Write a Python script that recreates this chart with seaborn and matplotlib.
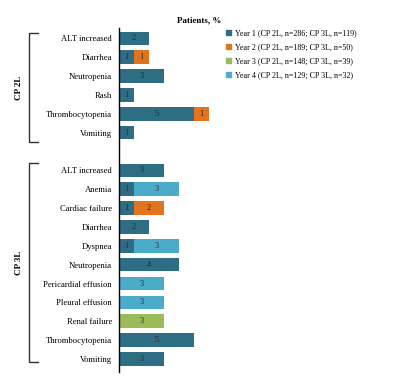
import pandas as pd
import seaborn as sns
import matplotlib.pyplot as plt
from matplotlib.patches import Patch
from matplotlib.lines import Line2D

# Adverse events per group (row labels) and % of patients per year
group = ['CP 2L'] * 6 + ['CP 3L'] * 11
events = ['ALT increased', 'Diarrhea', 'Neutropenia', 'Rash', 'Thrombocytopenia', 'Vomiting',
          'ALT increased', 'Anemia', 'Cardiac failure', 'Diarrhea', 'Dyspnea', 'Neutropenia',
          'Pericardial effusion', 'Pleural effusion', 'Renal failure', 'Thrombocytopenia', 'Vomiting']
year1 = [2, 1, 3, 1, 5, 1, 3, 1, 1, 2, 1, 4, 0, 0, 0, 5, 3]
year2 = [0, 1, 0, 0, 1, 0, 0, 0, 2, 0, 0, 0, 0, 0, 0, 0, 0]
year3 = [0, 0, 0, 0, 0, 0, 0, 0, 0, 0, 0, 0, 0, 0, 3, 0, 0]
year4 = [0, 0, 0, 0, 0, 0, 0, 3, 0, 0, 3, 0, 3, 3, 0, 0, 0]

series = ['Year 1 (CP 2L, n=286; CP 3L, n=119)',
          'Year 2 (CP 2L, n=189; CP 3L, n=50)',
          'Year 3 (CP 2L, n=148; CP 3L, n=39)',
          'Year 4 (CP 2L, n=129; CP 3L, n=32)']
colors = ['#2d6e84', '#e2731f', '#9bbb59', '#4aacc8']

df = pd.DataFrame({'group': group, 'event': events,
                   'y1': year1, 'y2': year2, 'y3': year3, 'y4': year4})
df['key'] = df['group'] + '|' + df['event']
df['c1'] = df['y1']
df['c2'] = df['c1'] + df['y2']
df['c3'] = df['c2'] + df['y3']
df['c4'] = df['c3'] + df['y4']

order = list(df.loc[df.group == 'CP 2L', 'key']) + ['gap'] + list(df.loc[df.group == 'CP 3L', 'key'])

plt.rcParams['font.family'] = ['Liberation Serif', 'DejaVu Serif']
fig = plt.figure(figsize=(4.16, 3.79), dpi=100)
ax = fig.add_axes([0.286, 0.018, 0.289, 0.908])

# stacked bars: draw cumulative totals from the top series down
for col, c in zip(['c4', 'c3', 'c2', 'c1'], colors[::-1]):
    sns.barplot(data=df, x=col, y='key', order=order, color=c, width=0.72,
                saturation=1, orient='h', ax=ax)

# value labels in the middle of each segment
pos = {k: i for i, k in enumerate(order)}
for _, r in df.iterrows():
    left = 0
    for v in [r.y1, r.y2, r.y3, r.y4]:
        if v > 0:
            ax.text(left + v / 2, pos[r.key], str(v), ha='center', va='center',
                    fontsize=6, color='#2a2a2a')
        left += v

ax.set_xlim(0, 8)
ax.set_ylim(len(order) - 0.3, -0.55)
ax.set_xlabel('')
ax.set_ylabel('')
ax.set_xticks([])
ax.set_yticks(range(len(order)))
ax.set_yticklabels([k.split('|')[1] if k != 'gap' else '' for k in order], fontsize=6.2)
ax.tick_params(axis='y', length=0, pad=5)
for s in ['top', 'right', 'bottom']:
    ax.spines[s].set_visible(False)
ax.spines['left'].set_linewidth(1)

fig.text(0.48, 0.945, 'Patients, %', fontsize=6.5, fontweight='bold', ha='center', va='center')

# group brackets
def bracket(y0, y1, label):
    x0, x1 = 29 / 416, 38 / 416
    ys, ye = 1 - y0 / 379, 1 - y1 / 379
    fig.add_artist(Line2D([x1, x0, x0, x1], [ys, ys, ye, ye], color='#333333', lw=1))
    fig.text(19 / 416, (ys + ye) / 2, label, rotation=90, ha='center', va='center',
             fontsize=6.5, fontweight='bold')

bracket(33, 142, 'CP 2L')
bracket(163, 362, 'CP 3L')

handles = [Patch(color=c, label=s) for c, s in zip(colors, series)]
fig.legend(handles=handles, loc='upper left', bbox_to_anchor=(0.535, 0.932), frameon=False,
           fontsize=5.8, handlelength=0.6, handleheight=0.6, handletextpad=0.5,
           labelspacing=0.75, borderaxespad=0)

fig.savefig('out.png', dpi=100)
